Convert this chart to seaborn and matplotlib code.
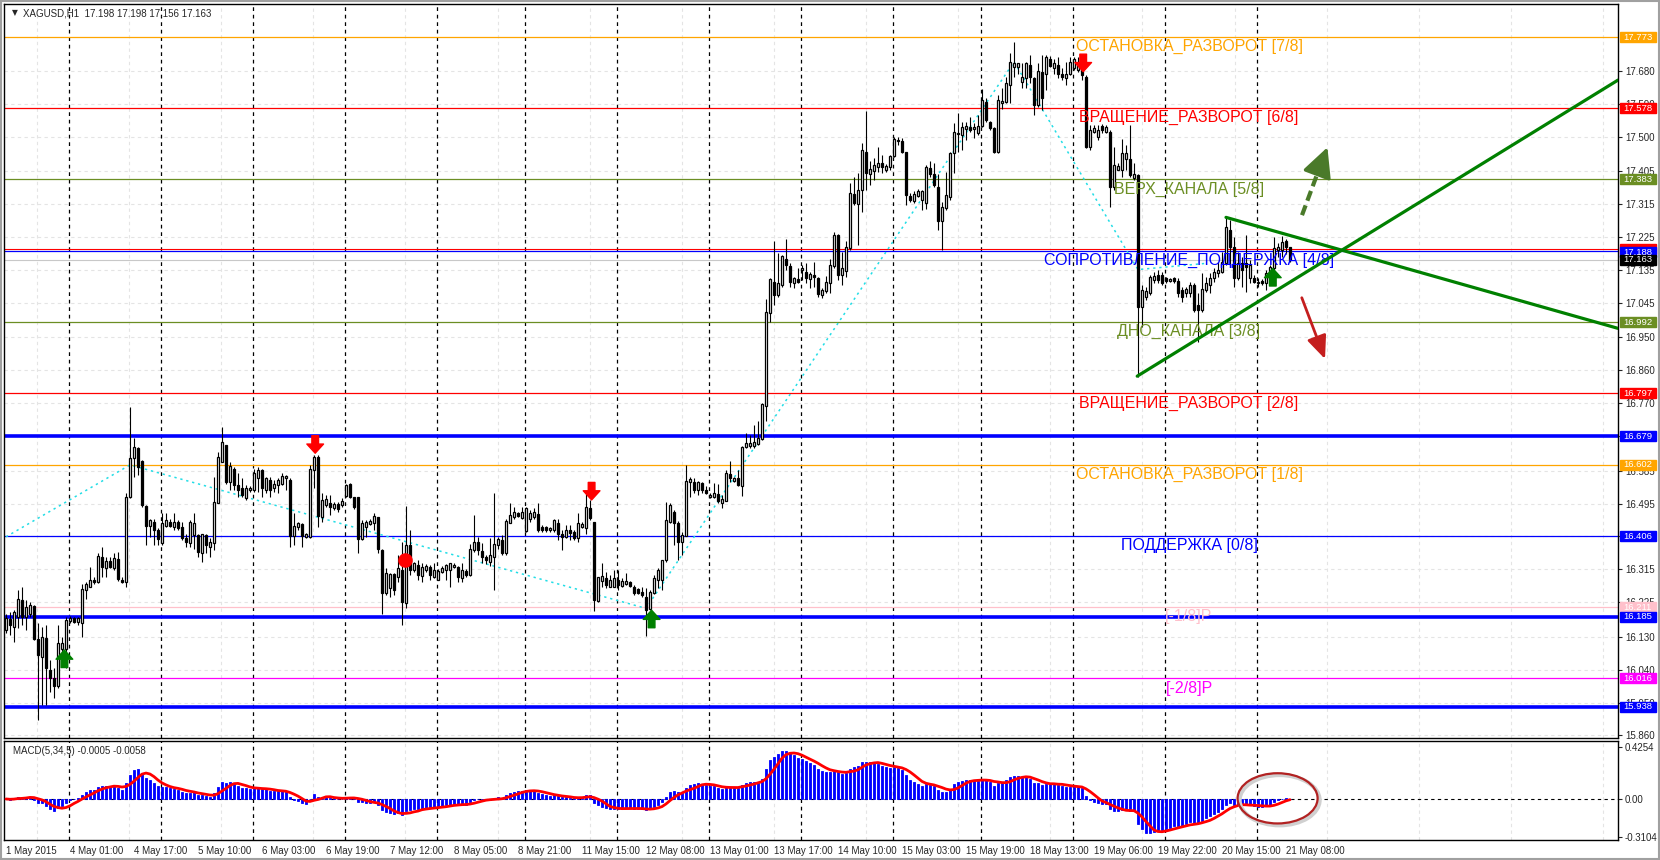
import numpy as np
import pandas as pd
import matplotlib
matplotlib.use('Agg')
import matplotlib.pyplot as plt
import matplotlib.transforms as mtransforms
from matplotlib.patches import Ellipse, Rectangle
import seaborn as sns

# hourly XAGUSD bars, 1 May 08:00 -> 21 May 08:00
opens = [
    16.150, 16.180, 16.158, 16.185, 16.231, 16.185, 16.194, 16.214, 16.123, 16.076, 16.126, 16.039, 16.016, 15.995, 16.098, 16.096,
    16.174, 16.181, 16.172, 16.167, 16.258, 16.267, 16.287, 16.281, 16.350, 16.318, 16.339, 16.318, 16.342, 16.287, 16.281, 16.512,
    16.619, 16.646, 16.612, 16.489, 16.433, 16.445, 16.423, 16.386, 16.433, 16.445, 16.430, 16.445, 16.432, 16.400, 16.386, 16.409,
    16.409, 16.361, 16.409, 16.377, 16.386, 16.497, 16.610, 16.655, 16.555, 16.591, 16.546, 16.537, 16.509, 16.532, 16.532, 16.564,
    16.587, 16.532, 16.560, 16.537, 16.546, 16.550, 16.564, 16.561, 16.406, 16.430, 16.439, 16.404, 16.404, 16.587, 16.623, 16.459,
    16.491, 16.496, 16.482, 16.493, 16.491, 16.516, 16.548, 16.512, 16.512, 16.397, 16.430, 16.439, 16.441, 16.457, 16.368, 16.251,
    16.263, 16.302, 16.295, 16.313, 16.224, 16.381, 16.313, 16.327, 16.297, 16.313, 16.322, 16.295, 16.287, 16.308, 16.313, 16.313,
    16.322, 16.322, 16.290, 16.311, 16.299, 16.368, 16.391, 16.364, 16.348, 16.335, 16.348, 16.381, 16.395, 16.359, 16.443, 16.457,
    16.468, 16.456, 16.421, 16.454, 16.459, 16.466, 16.432, 16.430, 16.423, 16.423, 16.443, 16.413, 16.404, 16.423, 16.418, 16.400,
    16.430, 16.427, 16.482, 16.445, 16.229, 16.284, 16.292, 16.267, 16.267, 16.287, 16.269, 16.274, 16.281, 16.267, 16.260, 16.254,
    16.240, 16.205, 16.249, 16.286, 16.287, 16.340, 16.445, 16.473, 16.441, 16.391, 16.406, 16.553, 16.555, 16.532, 16.551, 16.532,
    16.512, 16.512, 16.521, 16.496, 16.503, 16.576, 16.558, 16.564, 16.543, 16.651, 16.653, 16.653, 16.658, 16.671, 16.762, 17.018,
    17.103, 17.067, 17.094, 17.164, 17.146, 17.100, 17.109, 17.135, 17.130, 17.109, 17.121, 17.112, 17.067, 17.076, 17.098, 17.146,
    17.231, 17.121, 17.133, 17.194, 17.343, 17.316, 17.354, 17.459, 17.398, 17.407, 17.416, 17.427, 17.409, 17.418, 17.447, 17.491,
    17.489, 17.458, 17.338, 17.325, 17.338, 17.327, 17.318, 17.413, 17.398, 17.363, 17.270, 17.304, 17.334, 17.455, 17.507, 17.505,
    17.520, 17.526, 17.520, 17.509, 17.528, 17.596, 17.539, 17.523, 17.459, 17.593, 17.596, 17.641, 17.690, 17.692, 17.650, 17.660,
    17.696, 17.660, 17.587, 17.678, 17.673, 17.712, 17.687, 17.696, 17.673, 17.660, 17.673, 17.687, 17.682, 17.693, 17.664, 17.472,
    17.514, 17.500, 17.529, 17.514, 17.514, 17.363, 17.410, 17.409, 17.440, 17.440, 17.388, 17.395, 17.034, 17.062, 17.071, 17.107,
    17.121, 17.121, 17.112, 17.105, 17.112, 17.105, 17.080, 17.071, 17.071, 17.094, 17.039, 17.025, 17.080, 17.094, 17.112, 17.126,
    17.130, 17.153, 17.244, 17.199, 17.112, 17.153, 17.153, 17.112, 17.112, 17.098, 17.105, 17.098, 17.121, 17.139, 17.190, 17.190,
    17.215, 17.198,
]
highs = [
    16.192, 16.199, 16.204, 16.258, 16.267, 16.231, 16.226, 16.217, 16.167, 16.158, 16.162, 16.066, 16.044, 16.162, 16.130, 16.185,
    16.187, 16.185, 16.185, 16.276, 16.281, 16.320, 16.295, 16.359, 16.377, 16.350, 16.350, 16.361, 16.363, 16.295, 16.523, 16.760,
    16.674, 16.651, 16.614, 16.491, 16.454, 16.454, 16.427, 16.468, 16.468, 16.454, 16.468, 16.450, 16.445, 16.413, 16.450, 16.468,
    16.413, 16.413, 16.413, 16.400, 16.569, 16.637, 16.706, 16.655, 16.610, 16.596, 16.578, 16.564, 16.546, 16.543, 16.591, 16.594,
    16.591, 16.569, 16.567, 16.560, 16.564, 16.580, 16.573, 16.564, 16.468, 16.445, 16.443, 16.415, 16.601, 16.628, 16.628, 16.523,
    16.518, 16.518, 16.500, 16.500, 16.509, 16.550, 16.552, 16.514, 16.514, 16.450, 16.450, 16.454, 16.468, 16.459, 16.370, 16.318,
    16.306, 16.306, 16.354, 16.391, 16.488, 16.423, 16.336, 16.340, 16.331, 16.329, 16.327, 16.331, 16.315, 16.324, 16.329, 16.333,
    16.331, 16.324, 16.331, 16.315, 16.384, 16.464, 16.404, 16.386, 16.354, 16.400, 16.523, 16.404, 16.409, 16.454, 16.496, 16.486,
    16.473, 16.485, 16.486, 16.477, 16.482, 16.497, 16.436, 16.433, 16.432, 16.454, 16.454, 16.423, 16.436, 16.436, 16.423, 16.468,
    16.445, 16.528, 16.505, 16.445, 16.295, 16.331, 16.308, 16.299, 16.313, 16.313, 16.290, 16.304, 16.284, 16.272, 16.263, 16.267,
    16.263, 16.258, 16.299, 16.318, 16.340, 16.500, 16.496, 16.478, 16.446, 16.418, 16.601, 16.567, 16.564, 16.558, 16.555, 16.542,
    16.523, 16.551, 16.549, 16.519, 16.587, 16.613, 16.569, 16.587, 16.653, 16.688, 16.683, 16.710, 16.722, 16.770, 17.055, 17.114,
    17.213, 17.181, 17.176, 17.219, 17.153, 17.117, 17.140, 17.149, 17.153, 17.128, 17.158, 17.117, 17.085, 17.119, 17.164, 17.240,
    17.234, 17.185, 17.213, 17.374, 17.389, 17.400, 17.482, 17.571, 17.434, 17.441, 17.471, 17.450, 17.425, 17.450, 17.500, 17.500,
    17.496, 17.459, 17.345, 17.350, 17.356, 17.354, 17.423, 17.434, 17.429, 17.398, 17.322, 17.404, 17.459, 17.537, 17.564, 17.541,
    17.539, 17.555, 17.537, 17.560, 17.630, 17.605, 17.544, 17.527, 17.614, 17.632, 17.664, 17.728, 17.760, 17.701, 17.701, 17.705,
    17.724, 17.664, 17.701, 17.724, 17.724, 17.721, 17.714, 17.719, 17.687, 17.705, 17.719, 17.719, 17.719, 17.705, 17.669, 17.532,
    17.532, 17.532, 17.536, 17.532, 17.518, 17.472, 17.427, 17.495, 17.477, 17.532, 17.427, 17.399, 17.094, 17.089, 17.121, 17.130,
    17.135, 17.130, 17.116, 17.112, 17.116, 17.112, 17.089, 17.089, 17.103, 17.098, 17.071, 17.126, 17.116, 17.126, 17.139, 17.157,
    17.185, 17.281, 17.272, 17.226, 17.185, 17.171, 17.231, 17.162, 17.121, 17.112, 17.109, 17.135, 17.148, 17.226, 17.208, 17.228,
    17.221, 17.198,
]
lows = [
    16.140, 16.135, 16.117, 16.153, 16.162, 16.149, 16.185, 16.121, 15.902, 15.943, 15.943, 15.980, 15.962, 15.989, 16.076, 16.044,
    16.167, 16.167, 16.162, 16.130, 16.235, 16.266, 16.276, 16.278, 16.295, 16.295, 16.318, 16.313, 16.284, 16.278, 16.267, 16.509,
    16.569, 16.573, 16.486, 16.381, 16.404, 16.381, 16.381, 16.381, 16.432, 16.430, 16.423, 16.423, 16.395, 16.377, 16.377, 16.372,
    16.350, 16.336, 16.359, 16.350, 16.368, 16.496, 16.610, 16.550, 16.532, 16.532, 16.514, 16.514, 16.505, 16.528, 16.528, 16.528,
    16.514, 16.523, 16.514, 16.528, 16.523, 16.546, 16.532, 16.377, 16.381, 16.423, 16.377, 16.400, 16.400, 16.537, 16.432, 16.445,
    16.486, 16.464, 16.477, 16.473, 16.486, 16.514, 16.509, 16.479, 16.359, 16.395, 16.404, 16.436, 16.423, 16.359, 16.194, 16.244,
    16.240, 16.244, 16.281, 16.162, 16.208, 16.299, 16.308, 16.286, 16.281, 16.308, 16.286, 16.290, 16.286, 16.304, 16.286, 16.267,
    16.318, 16.281, 16.281, 16.295, 16.297, 16.363, 16.354, 16.331, 16.329, 16.324, 16.258, 16.372, 16.354, 16.354, 16.441, 16.454,
    16.459, 16.454, 16.418, 16.445, 16.454, 16.418, 16.418, 16.418, 16.418, 16.418, 16.395, 16.368, 16.400, 16.395, 16.395, 16.391,
    16.427, 16.413, 16.450, 16.202, 16.226, 16.267, 16.263, 16.266, 16.266, 16.258, 16.267, 16.272, 16.267, 16.244, 16.247, 16.240,
    16.132, 16.203, 16.247, 16.263, 16.258, 16.336, 16.441, 16.382, 16.341, 16.354, 16.405, 16.514, 16.523, 16.519, 16.523, 16.521,
    16.510, 16.510, 16.496, 16.482, 16.503, 16.555, 16.555, 16.542, 16.516, 16.647, 16.647, 16.647, 16.656, 16.669, 16.720, 16.993,
    17.039, 17.062, 17.089, 17.135, 17.089, 17.085, 17.100, 17.108, 17.098, 17.085, 17.089, 17.060, 17.057, 17.071, 17.071, 17.140,
    17.108, 17.094, 17.117, 17.190, 17.313, 17.203, 17.295, 17.354, 17.368, 17.381, 17.402, 17.400, 17.404, 17.409, 17.445, 17.477,
    17.455, 17.313, 17.322, 17.318, 17.336, 17.299, 17.301, 17.389, 17.363, 17.245, 17.190, 17.299, 17.327, 17.400, 17.459, 17.464,
    17.491, 17.514, 17.496, 17.505, 17.526, 17.541, 17.518, 17.454, 17.454, 17.577, 17.591, 17.591, 17.664, 17.673, 17.632, 17.632,
    17.646, 17.559, 17.582, 17.573, 17.628, 17.690, 17.673, 17.660, 17.655, 17.641, 17.669, 17.682, 17.678, 17.655, 17.468, 17.463,
    17.509, 17.491, 17.509, 17.509, 17.308, 17.354, 17.409, 17.390, 17.409, 17.390, 17.381, 16.842, 16.979, 17.052, 17.066, 17.098,
    17.098, 17.094, 17.098, 17.103, 17.098, 17.062, 17.048, 17.062, 17.062, 17.021, 16.938, 17.021, 17.075, 17.071, 17.103, 17.116,
    17.126, 17.148, 17.148, 17.089, 17.107, 17.089, 17.075, 17.098, 17.098, 17.089, 17.094, 17.080, 17.107, 17.135, 17.171, 17.171,
    17.180, 17.156,
]
closes = [
    16.181, 16.162, 16.199, 16.235, 16.185, 16.213, 16.217, 16.123, 16.080, 16.130, 16.044, 16.016, 15.995, 16.114, 16.112, 16.176,
    16.181, 16.172, 16.181, 16.260, 16.274, 16.286, 16.281, 16.351, 16.322, 16.339, 16.322, 16.345, 16.288, 16.281, 16.514, 16.621,
    16.651, 16.596, 16.491, 16.433, 16.450, 16.423, 16.397, 16.441, 16.450, 16.433, 16.445, 16.427, 16.400, 16.391, 16.445, 16.441,
    16.363, 16.411, 16.381, 16.391, 16.500, 16.623, 16.665, 16.555, 16.598, 16.546, 16.532, 16.518, 16.537, 16.539, 16.578, 16.587,
    16.537, 16.564, 16.532, 16.550, 16.560, 16.570, 16.570, 16.406, 16.433, 16.441, 16.406, 16.412, 16.589, 16.623, 16.461, 16.505,
    16.507, 16.485, 16.494, 16.479, 16.503, 16.546, 16.512, 16.485, 16.397, 16.441, 16.445, 16.448, 16.461, 16.372, 16.251, 16.306,
    16.302, 16.258, 16.318, 16.226, 16.381, 16.313, 16.331, 16.299, 16.320, 16.324, 16.299, 16.313, 16.310, 16.319, 16.327, 16.331,
    16.327, 16.293, 16.313, 16.299, 16.372, 16.391, 16.368, 16.348, 16.340, 16.354, 16.384, 16.397, 16.359, 16.448, 16.464, 16.473,
    16.461, 16.473, 16.482, 16.470, 16.473, 16.423, 16.423, 16.423, 16.427, 16.450, 16.412, 16.404, 16.423, 16.415, 16.400, 16.441,
    16.439, 16.485, 16.455, 16.231, 16.293, 16.297, 16.272, 16.286, 16.290, 16.272, 16.284, 16.284, 16.269, 16.251, 16.251, 16.245,
    16.203, 16.254, 16.290, 16.313, 16.340, 16.450, 16.491, 16.441, 16.391, 16.409, 16.558, 16.562, 16.532, 16.553, 16.532, 16.525,
    16.519, 16.525, 16.503, 16.507, 16.580, 16.564, 16.564, 16.546, 16.651, 16.662, 16.660, 16.665, 16.674, 16.768, 17.021, 17.109,
    17.067, 17.100, 17.172, 17.149, 17.103, 17.112, 17.103, 17.140, 17.112, 17.124, 17.117, 17.069, 17.080, 17.103, 17.149, 17.231,
    17.121, 17.140, 17.199, 17.347, 17.319, 17.354, 17.464, 17.400, 17.411, 17.422, 17.429, 17.416, 17.420, 17.447, 17.493, 17.487,
    17.459, 17.340, 17.327, 17.343, 17.352, 17.350, 17.416, 17.398, 17.368, 17.270, 17.308, 17.340, 17.455, 17.514, 17.511, 17.526,
    17.528, 17.518, 17.526, 17.528, 17.601, 17.546, 17.523, 17.459, 17.600, 17.598, 17.646, 17.705, 17.703, 17.701, 17.664, 17.701,
    17.664, 17.587, 17.681, 17.605, 17.719, 17.693, 17.701, 17.673, 17.664, 17.673, 17.705, 17.714, 17.701, 17.669, 17.472, 17.518,
    17.523, 17.518, 17.518, 17.527, 17.363, 17.422, 17.419, 17.456, 17.456, 17.395, 17.398, 17.034, 17.080, 17.078, 17.116, 17.118,
    17.107, 17.098, 17.105, 17.109, 17.105, 17.071, 17.062, 17.084, 17.094, 17.025, 17.025, 17.084, 17.098, 17.112, 17.130, 17.135,
    17.157, 17.253, 17.199, 17.112, 17.153, 17.135, 17.144, 17.148, 17.103, 17.103, 17.098, 17.126, 17.144, 17.194, 17.199, 17.212,
    17.199, 17.163,
]

# bars per trading day (1 May .. 21 May), used for the period separators
day_bar_counts = [16, 23, 23, 23, 23, 22, 23, 23, 23, 23, 22, 23, 23, 23, 9]
time_labels = ['1 May 2015', '4 May 01:00', '4 May 17:00', '5 May 10:00', '6 May 03:00', '6 May 19:00',
               '7 May 12:00', '8 May 05:00', '8 May 21:00', '11 May 15:00', '12 May 08:00', '13 May 01:00',
               '13 May 17:00', '14 May 10:00', '15 May 03:00', '15 May 19:00', '18 May 13:00', '19 May 06:00',
               '19 May 22:00', '20 May 15:00', '21 May 08:00']

# Murrey-math levels
level_prices = [17.773, 17.578, 17.383, 17.188, 16.992, 16.797, 16.602, 16.406, 16.211, 16.016]
level_names = ['ОСТАНОВКА_РАЗВОРОТ [7/8]', 'ВРАЩЕНИЕ_РАЗВОРОТ [6/8]', 'ВЕРХ_КАНАЛА [5/8]',
               'СОПРОТИВЛЕНИЕ_ПОДДЕРЖКА [4/8]', 'ДНО_КАНАЛА [3/8]', 'ВРАЩЕНИЕ_РАЗВОРОТ [2/8]',
               'ОСТАНОВКА_РАЗВОРОТ [1/8]', 'ПОДДЕРЖКА [0/8]', '[-1/8]P', '[-2/8]P']
level_colors = ['#FFA500', '#FF0000', '#6B8E23', '#0000FF', '#6B8E23', '#FF0000',
                '#FFA500', '#0000FF', '#FFC0CB', '#FF00FF']
thick_levels = [16.679, 16.185, 15.938]

# right-axis price ticks; 16.680 and 16.405 sit fully under the level boxes, so they have no label
price_ticks = [15.860, 15.950, 16.040, 16.130, 16.225, 16.315, 16.405, 16.495, 16.585, 16.680, 16.770,
               16.860, 16.950, 17.045, 17.135, 17.225, 17.315, 17.405, 17.500, 17.590, 17.680]
hidden_ticks = [16.680, 16.405]

# zigzag (cyan dotted)
zz_bars = [0, 31, 160, 252, 283, 300]
zz_prices = [16.404, 16.601, 16.208, 17.705, 17.136, 17.153]

# triangle lines
upper_bars = [305, 403]
upper_prices = [17.279, 16.975]
lower_bars = [282.8, 403]
lower_prices = [16.844, 17.655]

# fractal arrows
up_arrow_bars = [14.6, 161.4, 316.7]
up_arrow_tips = [16.094, 16.203, 17.139]
down_arrow_bars = [77.3, 146.4, 269.3]
down_arrow_tips = [16.633, 16.505, 17.678]

sns.set_style('white')
plt.rcParams['font.family'] = ['Liberation Sans', 'DejaVu Sans']

n = len(closes)
x = np.arange(n)
o = np.array(opens); h = np.array(highs); l = np.array(lows); c = np.array(closes)

fig = plt.figure(figsize=(16.6, 8.6), dpi=100)
ax = fig.add_axes([4 / 1660, 1 - 738 / 860, 1614 / 1660, 734 / 860])
axm = fig.add_axes([4 / 1660, 1 - 840 / 860, 1614 / 1660, 99 / 860])

xmax = 403
ax.set_xlim(-0.5, xmax)
ax.set_ylim(15.853, 17.8634)
axm.set_xlim(-0.5, xmax)
axm.set_ylim(-0.335, 0.473)

grid_kw = dict(color='#E4E4E4', ls=(0, (3, 3)), lw=0.8, zorder=0)
for g in np.arange(7.75, xmax, 23.03):
    ax.axvline(g, **grid_kw)
    axm.axvline(g, **grid_kw)
for t in price_ticks:
    ax.axhline(t, **grid_kw)

sep = np.cumsum(day_bar_counts)[:-1]
for s in sep:
    ax.axvline(s - 0.25, color='black', ls=(0, (3, 3)), lw=0.9, zorder=1)
    axm.axvline(s - 0.25, color='black', ls=(0, (3, 3)), lw=0.9, zorder=1)

# levels
for p, col in zip(level_prices, level_colors):
    ax.axhline(p, color=col, lw=0.9, zorder=2)
for p in thick_levels:
    ax.axhline(p, color='#0000FF', lw=2.6, zorder=2)
ax.axhline(17.192, color='#FF0000', lw=0.8, zorder=2)
ax.axhline(17.163, color='#C8C8C8', lw=0.8, zorder=2)

# zigzag
ax.plot(zz_bars, zz_prices, color='#22DDE6', lw=1.1, ls=(0, (1.5, 2.5)), zorder=2.5)

# candles
ax.vlines(x, l, h, color='black', lw=0.8, zorder=3)
up = c >= o
ax.bar(x, np.abs(c - o), bottom=np.minimum(o, c), width=0.6,
       color=np.where(up, 'white', 'black'), edgecolor='black', linewidth=0.9, zorder=4)

# level texts
for p, name, col in zip(level_prices, level_names, level_colors):
    ax.annotate(name, xy=(295.75, p), xytext=(0, -1.5), textcoords='offset points',
                ha='center', va='top', fontsize=11.5, color=col, zorder=6)

# triangle
sns.lineplot(x=upper_bars, y=upper_prices, ax=ax, color='#008000', linewidth=2.3, zorder=7)
sns.lineplot(x=lower_bars, y=lower_prices, ax=ax, color='#008000', linewidth=2.3, zorder=7)

# breakout arrows
ax.plot([324, 329.0], [17.285, 17.433], color='#4A7A2A', lw=3, ls=(0, (2.5, 1.2)), zorder=7)
ax.annotate('', xy=(330.6, 17.478), xytext=(328.6, 17.42),
            arrowprops=dict(arrowstyle='-|>,head_length=0.9,head_width=0.45', color='#4A7A2A',
                            lw=2.5, mutation_scale=20), zorder=7)
ax.annotate('', xy=(330, 16.884), xytext=(323.7, 17.066),
            arrowprops=dict(arrowstyle='-|>,head_length=0.7,head_width=0.3', color='#C41E1E',
                            lw=2, mutation_scale=20), zorder=7)

# fractal arrows
fr_style = 'simple,head_length=0.55,head_width=1.0,tail_width=0.4'
for b, tip in zip(up_arrow_bars, up_arrow_tips):
    ax.annotate('', xy=(b, tip), xytext=(b, tip - 0.048),
                arrowprops=dict(arrowstyle=fr_style, color='#008000', mutation_scale=12,
                                shrinkA=0, shrinkB=0), zorder=8)
for b, tip in zip(down_arrow_bars, down_arrow_tips):
    ax.annotate('', xy=(b, tip), xytext=(b, tip + 0.048),
                arrowprops=dict(arrowstyle=fr_style, color='#FF0000', mutation_scale=12,
                                shrinkA=0, shrinkB=0), zorder=8)
ax.scatter([99.75], [16.340], s=110, color='#FF0000', marker='o', linewidths=0, zorder=8)

# right price axis
ax.yaxis.tick_right()
ax.set_yticks(price_ticks)
ax.set_yticklabels(['' if t in hidden_ticks else f'{t:.3f}' for t in price_ticks])
ax.tick_params(axis='y', labelsize=7, length=3, pad=2, width=0.8, direction='out')
ax.tick_params(axis='x', bottom=False, labelbottom=False)
for sp in ax.spines.values():
    sp.set_color('black'); sp.set_linewidth(1)

trans = mtransforms.blended_transform_factory(ax.transAxes, ax.transData)
box_prices = [17.773, 17.578, 17.383, 17.188, 17.163, 16.992, 16.797, 16.679, 16.602,
              16.406, 16.211, 16.185, 16.016, 15.938]
box_colors = ['#FFA500', '#FF0000', '#6B8E23', '#0000FF', '#000000', '#6B8E23', '#FF0000',
              '#0000FF', '#FFA500', '#0000FF', '#FFC0CB', '#0000FF', '#FF00FF', '#0000FF']
hh = 10 * (17.8634 - 15.853) / 734
ax.add_patch(Rectangle((1.0012, 17.193 - hh / 2), 0.0223, hh, transform=trans, color='#FF0000',
                       clip_on=False, zorder=10))
for p, col in zip(box_prices, box_colors):
    shift = 0.004 if p == 17.188 else 0
    ax.add_patch(Rectangle((1.0012, p - hh / 2 - shift), 0.0223, hh,
                           transform=trans, color=col, clip_on=False, zorder=10))
    ax.text(1.0035, p - shift, f'{p:.3f}', transform=trans, color='white',
            fontsize=6.8, va='center', ha='left', zorder=11, clip_on=False)

ax.text(8 / 1614, 1 - 9 / 734, '▼', transform=ax.transAxes, fontsize=5.5, va='center', ha='left',
        family=['DejaVu Sans'])
ax.text(19 / 1614, 1 - 9 / 734, 'XAGUSD,H1  17.198 17.198 17.156 17.163', transform=ax.transAxes,
        fontsize=7, va='center', ha='left')

# MACD(5,34,5) from the closes
cs = pd.Series(closes)
macd = cs.ewm(span=5, adjust=False).mean() - cs.ewm(span=34, adjust=False).mean()
signal = macd.rolling(5, min_periods=1).mean()
axm.bar(x, macd.values, width=0.6, color='#0000FF', edgecolor='#0000FF', linewidth=0.6, zorder=3)
sns.lineplot(x=x, y=signal.values, ax=axm, color='#FF0000', linewidth=2, zorder=4)
axm.axhline(0, color='black', ls=(0, (3, 3)), lw=0.8, zorder=2)
axm.add_patch(Ellipse((318.4, -0.01), 20, 0.41, fill=False, ec='#D0D0D0', lw=3, zorder=5))
axm.add_patch(Ellipse((317.9, 0.005), 20, 0.41, fill=False, ec='#B22222', lw=1.6, zorder=6))
axm.text(9 / 1614, 1 - 10 / 99, 'MACD(5,34,5) -0.0005 -0.0058', transform=axm.transAxes,
         fontsize=7, va='center', ha='left')

axm.yaxis.tick_right()
axm.set_yticks([0.4254, 0.0, -0.3104])
axm.set_yticklabels(['0.4254', '0.00', '-0.3104'])
axm.tick_params(axis='y', labelsize=7, length=3, pad=2, width=0.8)
tick_bars = list(range(0, 16 * len(time_labels), 16))
axm.set_xticks(tick_bars)
axm.set_xticklabels(time_labels, ha='left')
axm.tick_params(axis='x', labelsize=7, length=3, pad=1, width=0.8, direction='out')
axm.set_xlabel(''); axm.set_ylabel(''); ax.set_xlabel(''); ax.set_ylabel('')
for sp in axm.spines.values():
    sp.set_color('black'); sp.set_linewidth(1)

fig.patches.append(Rectangle((0.0006, 0.0006), 0.9988, 0.9988, transform=fig.transFigure,
                             fill=False, ec='#A0A0A0', lw=1.5))

fig.savefig('out.png', dpi=100, facecolor='white')
